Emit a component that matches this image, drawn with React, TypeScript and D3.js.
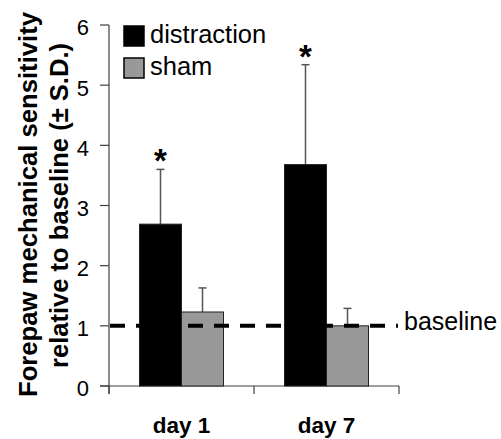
import { useRef, useEffect } from "react";
import * as d3 from "d3";

// data
const days = ["day 1", "day 7"];
const groups = ["distraction", "sham"];
const distractionMean = [2.69, 3.68];
const distractionSD = [0.91, 1.66];
const distractionStar = [true, true];
const shamMean = [1.23, 1.0];
const shamSD = [0.4, 0.29];
const shamStar = [false, false];
const yTicks = [0, 1, 2, 3, 4, 5, 6];
const baselineValue = 1;

const COLORS: Record<string, string> = { distraction: "#000000", sham: "#999999" };
const FONT = "'Liberation Sans', Arial, sans-serif";

export default function App() {
  const svgRef = useRef<SVGSVGElement>(null);

  useEffect(() => {
    const width = 501;
    const height = 439;

    const svg = d3.select(svgRef.current)
      .attr("width", width)
      .attr("height", height);
    svg.selectAll("*").remove();

    const rows = days.map((day, i) => ({
      day,
      values: [
        { group: "distraction", mean: distractionMean[i], sd: distractionSD[i], star: distractionStar[i] },
        { group: "sham", mean: shamMean[i], sd: shamSD[i], star: shamStar[i] },
      ],
    }));

    // scales
    const yScale = d3.scaleLinear().domain([0, 6]).range([386, 25]);
    const xScale = d3.scaleBand().domain(days).range([109, 399]).padding(0);
    const xInner = d3.scaleBand()
      .domain(groups)
      .range([0, xScale.bandwidth()])
      .paddingInner(0)
      .paddingOuter(0.726);
    const cx = (g: string) => (xInner(g) as number) + xInner.bandwidth() / 2;

    const axisColor = "#404040";

    // y axis
    svg.append("line")
      .attr("x1", 109).attr("x2", 109)
      .attr("y1", yScale(6)).attr("y2", yScale(0) + 8)
      .attr("stroke", axisColor).attr("stroke-width", 1.2);

    const yt = svg.append("g").selectAll("g").data(yTicks).join("g")
      .attr("transform", d => `translate(0,${yScale(d)})`);
    yt.append("line")
      .attr("x1", 100).attr("x2", 109)
      .attr("stroke", axisColor).attr("stroke-width", 1.2);
    yt.append("text")
      .attr("x", 89).attr("y", 10.4)
      .attr("text-anchor", "end")
      .style("font-family", FONT).style("font-size", "22px")
      .text(d => d);

    // x axis
    svg.append("line")
      .attr("x1", 100).attr("x2", 399)
      .attr("y1", yScale(0)).attr("y2", yScale(0))
      .attr("stroke", axisColor).attr("stroke-width", 1.2);
    const xEdges = [...days.map(d => xScale(d) as number), 399];
    svg.append("g").selectAll("line").data(xEdges).join("line")
      .attr("x1", d => d).attr("x2", d => d)
      .attr("y1", yScale(0)).attr("y2", yScale(0) + 8)
      .attr("stroke", axisColor).attr("stroke-width", 1.2);
    svg.append("g").selectAll("text").data(days).join("text")
      .attr("x", d => (xScale(d) as number) + xScale.bandwidth() / 2)
      .attr("y", 433)
      .attr("text-anchor", "middle")
      .style("font-family", FONT).style("font-size", "22.5px").style("font-weight", "bold")
      .text(d => d);

    // bars
    const grp = svg.append("g").selectAll("g").data(rows).join("g")
      .attr("transform", d => `translate(${xScale(d.day)},0)`);

    const bar = grp.selectAll("g").data(d => d.values).join("g");

    // error bars (upper only)
    bar.append("line")
      .attr("x1", d => cx(d.group)).attr("x2", d => cx(d.group))
      .attr("y1", d => yScale(d.mean))
      .attr("y2", d => yScale(d.mean + d.sd))
      .attr("stroke", "#555").attr("stroke-width", 1.5);
    bar.append("line")
      .attr("x1", d => cx(d.group) - 4).attr("x2", d => cx(d.group) + 4)
      .attr("y1", d => yScale(d.mean + d.sd))
      .attr("y2", d => yScale(d.mean + d.sd))
      .attr("stroke", "#555").attr("stroke-width", 1.5);

    bar.append("rect")
      .attr("x", d => xInner(d.group) as number)
      .attr("width", xInner.bandwidth())
      .attr("y", d => yScale(d.mean))
      .attr("height", d => yScale(0) - yScale(d.mean))
      .attr("fill", d => COLORS[d.group])
      .attr("stroke", "#222").attr("stroke-width", 1);

    bar.filter(d => d.star).append("text")
      .attr("x", d => cx(d.group))
      .attr("y", d => yScale(d.mean + d.sd) + 3)
      .attr("text-anchor", "middle")
      .style("font-family", FONT).style("font-size", "33px").style("font-weight", "bold")
      .text("*");

    // baseline
    svg.append("line")
      .attr("x1", 110).attr("x2", 398)
      .attr("y1", yScale(baselineValue)).attr("y2", yScale(baselineValue))
      .attr("stroke", "#000").attr("stroke-width", 4)
      .attr("stroke-dasharray", "15 11");
    svg.append("text")
      .attr("x", 404).attr("y", yScale(baselineValue) + 4.5)
      .style("font-family", FONT).style("font-size", "25px")
      .text("baseline");

    // legend
    const leg = svg.append("g").selectAll("g").data(groups).join("g")
      .attr("transform", (d, i) => `translate(124,${26 + i * 32})`);
    leg.append("rect")
      .attr("width", 20).attr("height", 20)
      .attr("fill", d => COLORS[d])
      .attr("stroke", "#000").attr("stroke-width", 1.5);
    leg.append("text")
      .attr("x", 26).attr("y", 17)
      .style("font-family", FONT).style("font-size", "25.5px")
      .text(d => d);

    // y title
    const title = svg.append("g");
    title.append("text")
      .attr("transform", "translate(37,204.5) rotate(-90)")
      .attr("text-anchor", "middle")
      .attr("textLength", 385).attr("lengthAdjust", "spacingAndGlyphs")
      .style("font-family", FONT).style("font-size", "26px").style("font-weight", "bold")
      .text("Forepaw mechanical sensitivity");
    title.append("text")
      .attr("transform", "translate(68,205.5) rotate(-90)")
      .attr("text-anchor", "middle")
      .attr("textLength", 325).attr("lengthAdjust", "spacingAndGlyphs")
      .style("font-family", FONT).style("font-size", "26px").style("font-weight", "bold")
      .text("relative to baseline (± S.D.)");
  }, []);

  return (
    <svg ref={svgRef} style={{ position: "absolute", left: 0, top: 0, background: "#fff" }}></svg>
  );
}
